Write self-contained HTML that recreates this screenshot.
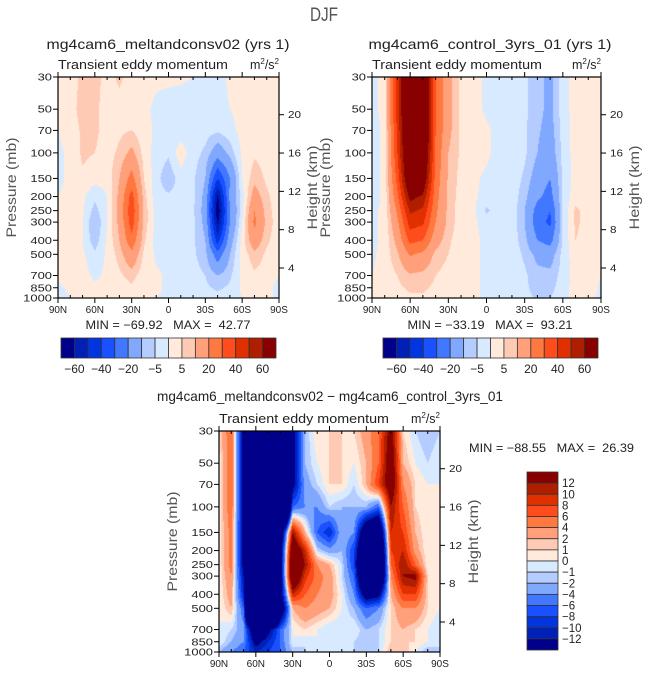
<!DOCTYPE html>
<html><head><meta charset="utf-8"><title>DJF transient eddy momentum</title>
<style>
html,body{margin:0;padding:0;background:#fff;}
body{width:649px;height:676px;position:relative;overflow:hidden;font-family:"Liberation Sans",sans-serif;}
canvas{position:absolute;}
svg{position:absolute;left:0;top:0;}
</style></head>
<body>
<canvas id="c1" width="221" height="221" style="left:58px;top:77px"></canvas>
<canvas id="c2" width="229" height="221" style="left:372px;top:77px"></canvas>
<canvas id="c3" width="221" height="221" style="left:219px;top:431px"></canvas>
<svg id="ov" width="649" height="676"></svg>
<script>
// ---- data ----
const lats = [90,80,70,60,50,40,30,20,10,0,-10,-20,-30,-40,-50,-60,-70,-80,-90];
const plevs = [30,50,70,100,150,200,250,300,400,500,700,850,1000];
const pTickLabels = ["30","50","70","100","150","200","250","300","400","500","700","850","1000"];
const latTicks = [90,60,30,0,-30,-60,-90];
const latTickLabels = ["90N","60N","30N","0","30S","60S","90S"];
const hTicks = [4,8,12,16,20];
const levAbs = [-60,-50,-40,-30,-20,-10,-5,0,5,10,20,30,40,50,60];
const levAbsLabels = ["−60","−40","−20","−5","5","20","40","60"];
const levDiff = [-12,-10,-8,-6,-4,-2,-1,0,1,2,4,6,8,10,12];
const levDiffLabels = ["12","10","8","6","4","2","1","0","−1","−2","−4","−6","−8","−10","−12"];
const colors = ["#00008a","#0020b8","#0035e0","#1a50ff","#4278ff","#80a8ff","#b4ccff","#d8eaff","#ffeadc","#ffcab4","#ffa07a","#ff7840","#ff4c1c","#e03000","#b01e00","#880000"];

const fieldA = [
[ 1, 3, 6, 7, 3, 6, 3, 2, 1, 1, 1, 0,-2,-2, 1, 2, 2, 2, 2],
[ 1, 3, 7, 6, 3, 3, 2, 1,-1,-2,-3,-3,-2,-2, 0, 2, 2, 2, 2],
[ 0, 2, 6, 6, 3, 4, 5, 2,-1,-3,-3,-3,-3,-4,-2, 2, 3, 2, 2],
[-1, 1, 6, 5, 3, 6,12, 3,-2,-4, 3,-3,-6,-15,-8, 1, 4, 3, 2],
[-1, 1, 4, 2, 2,10,24, 5,-3,-9,-2,-4,-10,-40,-20, 0, 8, 4, 2],
[ 0, 1, 1,-4, 0,12,34, 7,-3,-4,-3,-4,-12,-62,-18,-2,14, 6, 2],
[ 0, 1, 1,-7, 0,13,37, 8,-2,-3,-3,-4,-13,-68,-20,-2,20, 7, 2],
[ 0, 1, 0,-10, 0,12,35, 8,-2,-3,-3,-4,-12,-62,-20, 0,22, 8, 2],
[ 0, 1, 0,-8, 1,10,27, 6,-2,-3,-3,-4,-10,-45,-14, 2,16, 6, 2],
[ 0, 1, 1,-4, 1, 7,17, 4,-1,-2,-2,-4,-8,-26,-10, 2, 8, 4, 2],
[ 1, 3, 2,-1, 1, 4, 7, 2, 1,-1,-1,-3,-5,-10,-6, 1, 4, 3, 0],
[-1, 1, 2, 1, 1, 2, 4, 1, 1,-1,-1,-2,-4,-6,-4, 1, 3, 2,-2],
[-2, 0, 1, 1, 0, 1, 2, 0, 0,-1,-1,-2,-2,-3,-2, 0, 1, 1,-1]];

const fieldB = [
[-2, 2,45,95,85,30,12, 4, 2,-1,-2,-2,-4,-8,-12,-2, 2, 2, 2],
[-2, 2,45,95,88,30,12, 4, 2,-1,-2,-2,-4,-8,-12,-2, 2, 2, 2],
[-2, 1,42,92,88,30,12, 4, 2, 1,-2,-2,-4,-9,-13,-3, 2, 2, 2],
[-2, 1,40,88,82,28,10, 4, 2, 1,-2,-2,-4,-10,-15,-3, 2, 2, 2],
[-2, 1,34,80,74,26, 9, 3, 1,-1,-2,-2,-6,-14,-20,-4, 2, 2, 2],
[-2, 1,28,64,58,24, 8, 3, 1,-2,-2,-2,-8,-18,-24,-4, 3, 2, 2],
[-1, 1,22,52,48,22, 8, 2, 1,-6,-2,-2,-10,-24,-30,-4, 6, 3, 2],
[-1, 1,18,45,42,20, 8, 2, 1,-2,-2,-2,-10,-26,-32,-4, 6, 3, 2],
[-1, 1,13,33,30,14, 6, 2, 1,-1,-2,-2,-8,-20,-24,-4, 5, 3, 2],
[-1, 2, 9,21,18, 8, 5, 2, 1,-1,-2,-2,-6,-12,-14,-3, 3, 2, 2],
[ 0, 2, 5, 9, 8, 5, 3, 2, 1,-1,-2,-2,-4,-8,-8,-3, 2, 2, 0],
[ 0, 2, 4, 6, 6, 4, 2, 2, 1,-1,-2,-2,-4,-7,-7,-2, 2, 3,-1],
[ 0, 2, 3, 4, 4, 3, 2, 1, 1,-1,-2,-2,-3,-6,-5,-1, 1, 1,-1]];

const fieldC = [
[ 1, 6,-14,-80,-80,-60,-14,-2, 1, 1, 1, 1, 3, 6,14, 1,-1,-2,-1],
[ 0, 6,-14,-80,-80,-60,-14,-2, 0, 1, 1, 0, 2, 6,16, 2, 0,-1, 0],
[ 0, 6,-14,-80,-80,-60,-14,-3,-1, 1, 1,-1, 2, 8,16, 4, 1, 0, 0],
[ 0, 6,-14,-80,-80,-60,-6,-4,-4,-1,-2,-2,-2,-6,12, 6, 1, 0, 0],
[ 0, 5,-14,-80,-80,-20,12, 2,-6,-10,-2,-4,-20,-24,10, 8, 2, 0, 0],
[ 0, 5,-14,-80,-80,-16,18,10,-1,-3,-2,-8,-24,-30, 8,10, 3, 0, 0],
[ 0, 5,-14,-80,-80,-16,20,12, 4, 2,-1,-8,-30,-30, 6,12, 6, 0, 0],
[ 0, 4,-12,-80,-80,-16,20, 9, 5, 3,-1,-6,-28,-28, 4,12,13, 1, 0],
[ 0, 3,-10,-80,-80,-16,10, 6, 4, 3, 0,-4,-16,-14, 2, 8, 8, 1, 0],
[ 0, 2,-6,-70,-70,-20, 2, 4, 3, 2, 0,-2,-6,-4, 1, 4, 4, 1, 0],
[ 0,-1,-3,-20,-14,-6, 0, 1, 0,-1,-1, 0,-2,-1, 1, 2, 1, 0,-1],
[ 0,-2,-4,-14,-10,-6, 0,-1, 0,-1, 0,-1,-2,-1, 1, 1, 1, 0,-1],
[-2,-4,-6,-10,-8,-6,-2,-1,-1,-1, 0,-1,-1,-1, 2, 2, 0,-2,-1]];

// ---- scales ----
const lnP0 = Math.log(30), lnP1 = Math.log(1000);
function yOfP(p, top, h){ return top + h*(Math.log(p)-lnP0)/(lnP1-lnP0); }
function xOfLat(lat, left, w){ return left + w*(90-lat)/180; }
function sample(field, lat, p){
  let fi = (90-lat)/10; let i0 = Math.min(Math.floor(fi), lats.length-2); let tx = fi-i0;
  let lp = Math.log(p); let j0 = 0;
  while (j0 < plevs.length-2 && Math.log(plevs[j0+1]) < lp) j0++;
  let ty = (lp-Math.log(plevs[j0]))/(Math.log(plevs[j0+1])-Math.log(plevs[j0]));
  ty = Math.max(0, Math.min(1, ty));
  const a=field[j0][i0], b=field[j0][i0+1], c=field[j0+1][i0], d=field[j0+1][i0+1];
  return (a*(1-tx)+b*tx)*(1-ty)+(c*(1-tx)+d*tx)*ty;
}
function levelIndex(v, lev){ let k=0; while(k<lev.length && v>=lev[k]) k++; return k; }
function hexToRgb(h){ return [parseInt(h.slice(1,3),16),parseInt(h.slice(3,5),16),parseInt(h.slice(5,7),16)]; }
const rgb = colors.map(hexToRgb);
function drawField(id, field, lev){
  const cv = document.getElementById(id), ctx = cv.getContext('2d');
  const W = cv.width, H = cv.height, img = ctx.createImageData(W,H);
  for (let y=0;y<H;y++){
    const p = Math.exp(lnP0 + (y+0.5)/H*(lnP1-lnP0));
    for (let x=0;x<W;x++){
      const lat = 90 - (x+0.5)/W*180;
      const c = rgb[levelIndex(sample(field,lat,p),lev)];
      const o=(y*W+x)*4; img.data[o]=c[0]; img.data[o+1]=c[1]; img.data[o+2]=c[2]; img.data[o+3]=255;
    }
  }
  ctx.putImageData(img,0,0);
}
drawField('c1', fieldA, levAbs);
drawField('c2', fieldB, levAbs);
drawField('c3', fieldC, levDiff);

// ---- overlay ----
const NS = "http://www.w3.org/2000/svg";
const ov = document.getElementById('ov');
function mk(tag, attrs, parent){
  const e = document.createElementNS(NS, tag);
  for (const k in attrs) e.setAttribute(k, attrs[k]);
  (parent||ov).appendChild(e); return e;
}
function txt(s, x, y, size, anchor, parent, len){
  const t = mk('text', {x:x, y:y, 'font-size':size, 'text-anchor':anchor||'middle', fill:'#222', 'font-family':'Liberation Sans, sans-serif'}, parent);
  if (len) { t.setAttribute('textLength', len); t.setAttribute('lengthAdjust', 'spacingAndGlyphs'); }
  t.textContent = s; return t;
}
const tTitle = txt("DJF", 324, 21, 19, 'middle', null, 28);


tTitle.setAttribute('fill', '#555');
tTitle.setAttribute('font-weight', '300');

function panel(name, L, T, W, H, title, titleX, titleY, titleLen, minmax, mmX, mmY, mmAnchor){
  const g = mk('g', {});
  
  
  const t = txt(title, titleX, titleY, 14, 'middle', g, titleLen);
  
  
  const st = txt("Transient eddy momentum", L, T-8, 12.5, 'start', g, 170);
  
  
  const un = mk('text', {x:L+W, y:T-8, 'font-size':12.5, 'text-anchor':'end', fill:'#222'}, g);
  un.innerHTML = 'm<tspan dy="-5" font-size="8">2</tspan><tspan dy="5">/s</tspan><tspan dy="-5" font-size="8">2</tspan>';
  
  
  const box = mk('rect', {x:L, y:T, width:W, height:H, fill:'none', stroke:'#000', 'stroke-width':1.2}, g);
  
  
  plevs.forEach((p,i)=>{
    const y = yOfP(p, T, H);
    const tk = mk('line', {x1:L-5, x2:L, y1:y, y2:y, stroke:'#000'}, g);
    
    
    const lb = txt(pTickLabels[i], L-6, y+3.5, 10, 'end', g, pTickLabels[i].length*7.2);
    
    
  });
  hTicks.forEach(z=>{
    const y = T + 191 - (z-4)*9.58;
    const tk = mk('line', {x1:L+W, x2:L+W+5, y1:y, y2:y, stroke:'#000'}, g);
    
    
    const lb = txt(String(z), L+W+9, y+3.5, 10, 'start', g, String(z).length*6.5);
    
    
  });
  for (let lat=90; lat>=-90; lat-=10){
    const x = xOfLat(lat, L, W);
    const major = lat%30===0;
    const tb = mk('line', {x1:x, x2:x, y1:T+H, y2:T+H+(major?5:-3), stroke:'#000'}, g);
    
    
    const tt = mk('line', {x1:x, x2:x, y1:T, y2:T-(major?5:-3), stroke:'#000'}, g);
    
    
  }
  latTicks.forEach((lat,i)=>{
    const lb = txt(latTickLabels[i], xOfLat(lat, L, W), T+H+15, 10, 'middle', g);
    
    
  });
  const yl = txt("Pressure (mb)", 0, 0, 14, 'middle', g, 100);
  yl.setAttribute('transform', `translate(${L-42},${T+H/2}) rotate(-90)`);
  yl.setAttribute('fill', '#555');
  
  
  const hl = txt("Height (km)", 0, 0, 14, 'middle', g, 84);
  hl.setAttribute('transform', `translate(${L+W+38},${T+H/2}) rotate(-90)`);
  hl.setAttribute('fill', '#555');
  
  
  const mm = txt(minmax, mmX, mmY, 12, mmAnchor, g, 165);
  mm.setAttribute('style', 'white-space:pre');
  
  
}
panel('panel-meltandconsv02', 58, 77, 221, 221, "mg4cam6_meltandconsv02 (yrs 1)", 168, 49, 243, "MIN = −69.92   MAX =  42.77", 168, 329, 'middle');
panel('panel-control', 372, 77, 229, 221, "mg4cam6_control_3yrs_01 (yrs 1)", 490, 49, 243, "MIN = −33.19   MAX =  93.21", 490, 329, 'middle');
panel('panel-difference', 219, 431, 221, 221, "mg4cam6_meltandconsv02 − mg4cam6_control_3yrs_01", 330, 401, 346, "MIN = −88.55   MAX =  26.39", 469, 452, 'start');

function hbar(name, L, T, W, H){
  const g = mk('g', {});
  
  
  const n = colors.length, bw = W/n;
  colors.forEach((c,i)=>{
    const r = mk('rect', {x:L+i*bw, y:T, width:bw, height:H, fill:c, stroke:'#333', 'stroke-width':0.8}, g);
    
    
  });
  levAbsLabels.forEach((s,i)=>{
    const b = 1 + i*2;
    const lb = txt(s, L+b*bw, T+H+15, 12, 'middle', g);
    
    
  });
}
hbar('colorbar-panel1', 61, 338, 215, 20);
hbar('colorbar-panel2', 383, 338, 215, 20);

(function(){
  const g = mk('g', {});
  
  
  const L=527, T=472, W=31, H=178, n=colors.length, bh=H/n;
  for (let i=0;i<n;i++){
    const r = mk('rect', {x:L, y:T+i*bh, width:W, height:bh, fill:colors[n-1-i], stroke:'#333', 'stroke-width':0.8}, g);
    
    
  }
  levDiffLabels.forEach((s,i)=>{
    const lb = txt(s, L+W+4, T+(i+1)*bh+4, 11.5, 'start', g);
    
    
  });
})();
</script>
</body></html>
